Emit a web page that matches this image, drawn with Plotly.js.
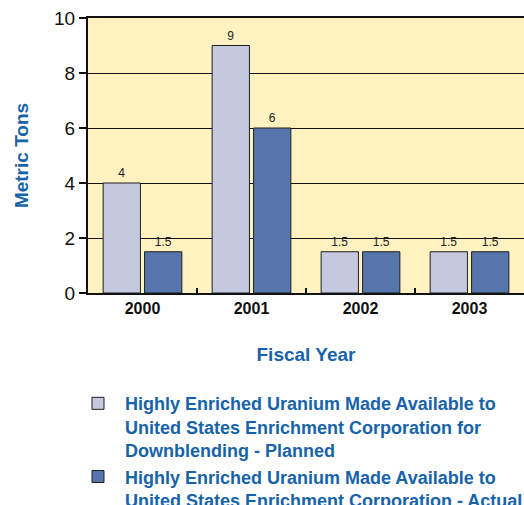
<!DOCTYPE html>
<html>
<head>
<meta charset="utf-8">
<script src="https://cdn.plot.ly/plotly-3.0.1.min.js"></script>
<style>
  html, body { margin: 0; padding: 0; background: #ffffff; }
  #chart { width: 524px; height: 505px; }
</style>
</head>
<body>
<div id="chart"></div>
<script>
// Fiscal years on the category axis
var years = ['2000', '2001', '2002', '2003'];
// Metric tons, planned vs. actual
var planned = [4, 9, 1.5, 1.5];
var actual = [1.5, 6, 1.5, 1.5];
var yTicks = [0, 2, 4, 6, 8, 10];

var plannedName = 'Highly Enriched Uranium Made Available to<br>United States Enrichment Corporation for<br>Downblending - Planned';
var actualName = 'Highly Enriched Uranium Made Available to<br>United States Enrichment Corporation - Actual';

var blue = '#1763a9';
var labelFont = { family: 'Liberation Sans Narrow, Liberation Sans, Arial', size: 12, color: '#222222' };

var traces = [
  {
    type: 'bar', x: years, y: planned, name: plannedName,
    marker: { color: '#c5c9df', line: { color: '#1e1e1e', width: 1 } },
    text: planned.map(String), textposition: 'outside', textfont: labelFont,
    cliponaxis: false, hoverinfo: 'skip'
  },
  {
    type: 'bar', x: years, y: actual, name: actualName,
    marker: { color: '#5675ad', line: { color: '#1e1e1e', width: 1 } },
    text: actual.map(String), textposition: 'outside', textfont: labelFont,
    cliponaxis: false, hoverinfo: 'skip'
  }
];

var layout = {
  width: 524, height: 505,
  margin: { l: 88, r: 0, t: 18, b: 212, pad: 0, autoexpand: false },
  paper_bgcolor: '#ffffff',
  plot_bgcolor: '#fff1c0',
  barmode: 'group',
  bargap: 0.24,
  bargroupgap: 0.1,
  showlegend: true,
  font: { family: 'Liberation Sans, Arial', color: '#111111' },
  xaxis: {
    type: 'category',
    showline: true, linecolor: '#111111', linewidth: 2, mirror: true,
    ticks: 'inside', tickson: 'boundaries', ticklen: 5, tickwidth: 2, tickcolor: '#111111',
    tickfont: { family: 'Liberation Sans, Arial', size: 16, weight: 'bold', color: '#111111' },
    showgrid: false,
    title: { text: 'Fiscal Year', font: { family: 'Liberation Sans, Arial', size: 19, weight: 'bold', color: blue }, standoff: 31 }
  },
  yaxis: {
    range: [0, 10], tickvals: yTicks, ticktext: yTicks.map(String),
    showline: true, linecolor: '#111111', linewidth: 2,
    ticks: 'outside', ticklen: 7, tickwidth: 2, tickcolor: '#111111',
    tickfont: { family: 'Liberation Sans Narrow, Liberation Sans, Arial', size: 19, color: '#111111' },
    showgrid: true, gridcolor: '#111111', gridwidth: 1,
    zeroline: false,
    title: { text: 'Metric Tons', font: { family: 'Liberation Sans, Arial', size: 19, weight: 'bold', color: blue }, standoff: 20 }
  },
  legend: {
    x: -0.039, y: -0.335, xanchor: 'left', yanchor: 'top',
    itemwidth: 44, tracegroupgap: 0, valign: 'top',
    font: { family: 'Liberation Sans, Arial', size: 18, weight: 'bold', color: blue },
    bgcolor: 'rgba(0,0,0,0)'
  }
};

Plotly.newPlot('chart', traces, layout, { staticPlot: true, displayModeBar: false });
</script>
</body>
</html>
